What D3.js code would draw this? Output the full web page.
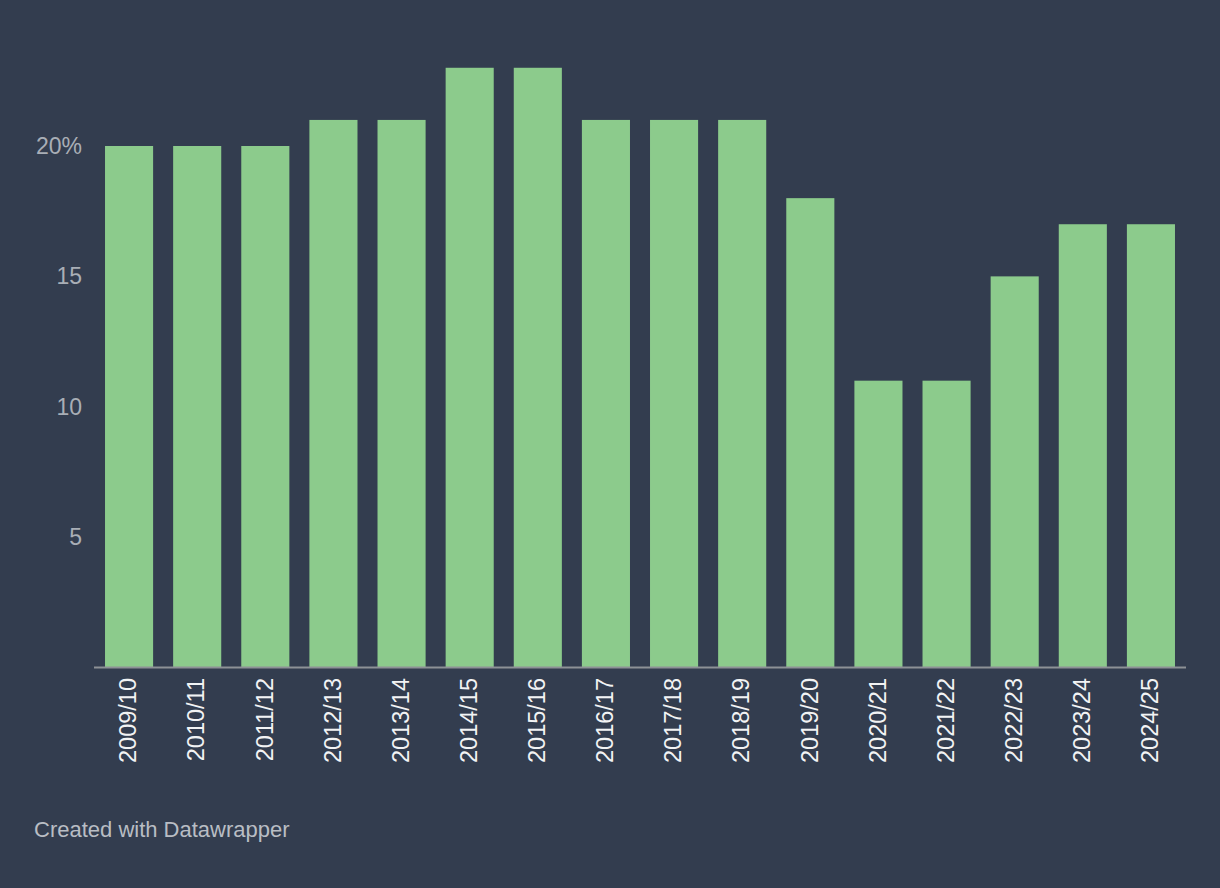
<!DOCTYPE html>
<html>
<head>
<meta charset="utf-8">
<script src="https://cdn.jsdelivr.net/npm/d3@7"></script>
<style>
  body { margin: 0; background: #333d4f; }
  svg { display: block; font-family: "Liberation Sans", Arial, Helvetica, sans-serif; }
</style>
</head>
<body>
<div id="plotDiv"></div>
<script>
const seasons = ['2009/10','2010/11','2011/12','2012/13','2013/14','2014/15','2015/16','2016/17',
  '2017/18','2018/19','2019/20','2020/21','2021/22','2022/23','2023/24','2024/25'];
const shares = [20, 20, 20, 21, 21, 23, 23, 21, 21, 21, 18, 11, 11, 15, 17, 17];
const yTicks = [5, 10, 15, 20];

const width = 1220, height = 888;
const baseline = 667.5;

const svg = d3.select("#plotDiv").append("svg")
  .attr("width", width)
  .attr("height", height);

svg.append("rect").attr("width", width).attr("height", height).attr("fill", "#333d4f");

// scales
const x = d3.scaleBand()
  .domain(seasons)
  .range([95, 1185])
  .paddingInner(0.294)
  .paddingOuter(0.147);

const y = d3.scaleLinear()
  .domain([0, 20])
  .range([baseline, 146]);

// y tick labels
svg.selectAll(".ytick")
  .data(yTicks)
  .enter()
  .append("text")
  .attr("class", "ytick")
  .attr("x", 82)
  .attr("y", d => y(d))
  .attr("dy", "0.35em")
  .attr("text-anchor", "end")
  .style("font-size", "23px")
  .style("fill", "#a9aeb6")
  .text(d => d === 20 ? "20%" : d);

// bars
svg.selectAll(".bar")
  .data(shares)
  .enter()
  .append("rect")
  .attr("class", "bar")
  .attr("x", (d, i) => x(seasons[i]))
  .attr("y", d => y(d))
  .attr("width", x.bandwidth())
  .attr("height", d => y(0) - y(d))
  .style("fill", "#8ccb8c");

// baseline
svg.append("line")
  .attr("x1", 94).attr("x2", 1186)
  .attr("y1", y(0)).attr("y2", y(0))
  .style("stroke", "#8d9196")
  .style("stroke-width", 2);

// x labels (rotated)
svg.selectAll(".xlab")
  .data(seasons)
  .enter()
  .append("text")
  .attr("class", "xlab")
  .attr("transform", d => `translate(${x(d) + x.bandwidth() / 2 - 1},678) rotate(-90)`)
  .attr("dy", "0.35em")
  .attr("text-anchor", "end")
  .style("font-size", "23.5px")
  .style("fill", "#f2f3f4")
  .text(d => d);

// footer
svg.append("text")
  .attr("x", 34)
  .attr("y", 837)
  .style("font-size", "22px")
  .style("fill", "#b9bdc4")
  .text("Created with Datawrapper");
</script>
</body>
</html>
